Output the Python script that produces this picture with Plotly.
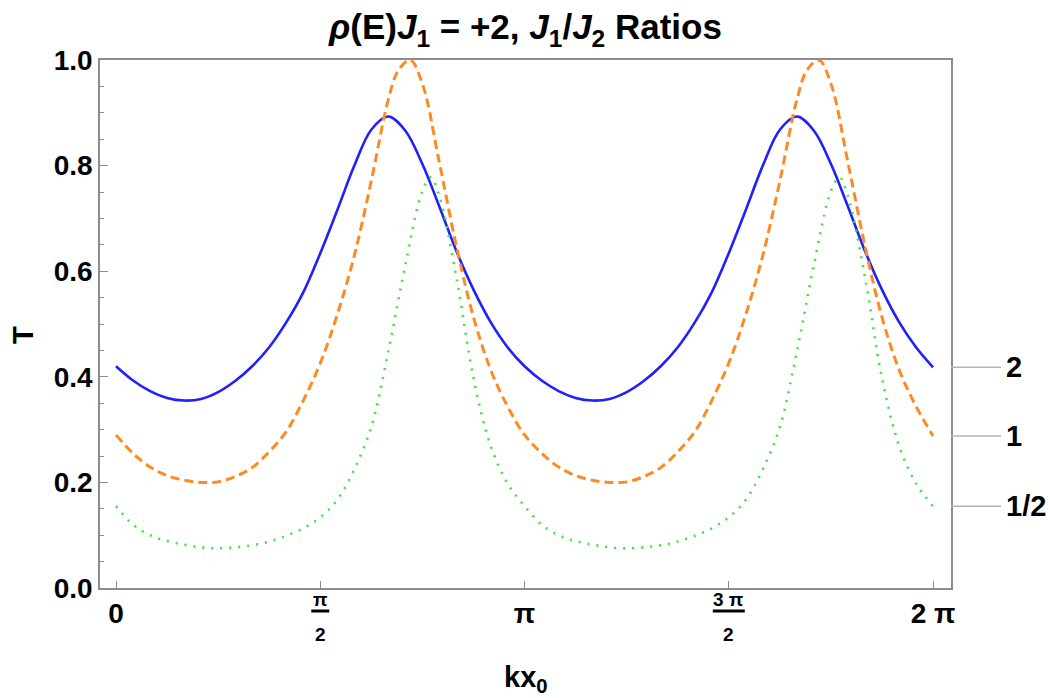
import plotly.graph_objects as go

# ---- data (kx0 in radians, T) ----
blue_x = [0.000, 0.131, 0.262, 0.393, 0.524, 0.654, 0.785, 0.916, 1.047, 1.178, 1.309, 1.440, 1.571, 1.702,
          1.833, 1.963, 2.094, 2.225, 2.356, 2.487, 2.618, 2.749, 2.880, 3.011, 3.142, 3.273, 3.404, 3.534,
          3.665, 3.796, 3.927, 4.058, 4.189, 4.320, 4.451, 4.581, 4.712, 4.843, 4.974, 5.105, 5.236, 5.367,
          5.498, 5.629, 5.760, 5.890, 6.021, 6.152, 6.283]
blue_y = [0.420, 0.393, 0.373, 0.360, 0.355, 0.358, 0.371, 0.392, 0.420, 0.456, 0.503, 0.560, 0.634, 0.716,
          0.800, 0.868, 0.893, 0.866, 0.803, 0.722, 0.638, 0.565, 0.504, 0.456, 0.420, 0.393, 0.373, 0.360,
          0.355, 0.358, 0.371, 0.392, 0.420, 0.456, 0.503, 0.560, 0.634, 0.716, 0.800, 0.868, 0.893, 0.866,
          0.803, 0.722, 0.638, 0.565, 0.504, 0.456, 0.418]

orange_x = [0.000, 0.131, 0.262, 0.393, 0.524, 0.654, 0.785, 0.916, 1.047, 1.178, 1.309, 1.440, 1.571, 1.702,
            1.833, 1.963, 2.094, 2.170, 2.262, 2.356, 2.487, 2.618, 2.749, 2.880, 3.011, 3.142, 3.273, 3.404,
            3.534, 3.665, 3.796, 3.927, 4.058, 4.189, 4.320, 4.451, 4.581, 4.712, 4.843, 4.974, 5.105, 5.236,
            5.312, 5.404, 5.498, 5.629, 5.760, 5.890, 6.021, 6.152, 6.283]
orange_y = [0.290, 0.255, 0.229, 0.213, 0.204, 0.200, 0.201, 0.211, 0.228, 0.258, 0.296, 0.355, 0.426, 0.518,
            0.630, 0.771, 0.925, 0.980, 1.000, 0.955, 0.805, 0.647, 0.513, 0.414, 0.344, 0.290, 0.255, 0.229,
            0.213, 0.204, 0.200, 0.201, 0.211, 0.228, 0.258, 0.296, 0.355, 0.426, 0.518, 0.630, 0.771, 0.925,
            0.980, 1.000, 0.955, 0.805, 0.647, 0.513, 0.414, 0.344, 0.288]

green_x = [0.000, 0.131, 0.262, 0.393, 0.524, 0.654, 0.785, 0.916, 1.047, 1.178, 1.309, 1.440, 1.571, 1.702,
           1.833, 1.963, 2.094, 2.225, 2.356, 2.420, 2.487, 2.618, 2.749, 2.880, 3.011, 3.142, 3.273, 3.404,
           3.534, 3.665, 3.796, 3.927, 4.058, 4.189, 4.320, 4.451, 4.581, 4.712, 4.843, 4.974, 5.105, 5.236,
           5.367, 5.498, 5.562, 5.629, 5.760, 5.890, 6.021, 6.152, 6.283]
green_y = [0.155, 0.120, 0.100, 0.089, 0.082, 0.077, 0.075, 0.077, 0.081, 0.088, 0.099, 0.113, 0.134, 0.167,
           0.225, 0.305, 0.448, 0.612, 0.752, 0.778, 0.742, 0.588, 0.398, 0.270, 0.198, 0.155, 0.120, 0.100,
           0.089, 0.082, 0.077, 0.075, 0.077, 0.081, 0.088, 0.099, 0.113, 0.134, 0.167, 0.225, 0.305, 0.448,
           0.612, 0.752, 0.778, 0.742, 0.588, 0.398, 0.270, 0.198, 0.155]

series_labels = ["2", "1", "1/2"]
x_tick_vals = [0.0, 1.5708, 3.14159, 4.71239, 6.28319]
x_tick_text = ["0", "", "π", "", "2 π"]
frac_numerators = ["π", "3 π"]
y_tick_vals = [0.0, 0.2, 0.4, 0.6, 0.8, 1.0]
y_tick_text = ["0.0", "0.2", "0.4", "0.6", "0.8", "1.0"]

FONT = "Liberation Sans"
FRAME = "#8c8c8c"
PW, PH = 851.0, 528.0   # plot area size in px

fig = go.Figure()
fig.add_trace(go.Scatter(x=blue_x, y=blue_y, mode="lines",
                         line=dict(color="#1f1fff", width=2.6, shape="spline", smoothing=1.0)))
fig.add_trace(go.Scatter(x=orange_x, y=orange_y, mode="lines",
                         line=dict(color="#ff8a22", width=3, dash="9px,5px", shape="spline", smoothing=1.0)))
fig.add_trace(go.Scatter(x=green_x, y=green_y, mode="lines",
                         line=dict(color="#3ae63a", width=2.6, dash="2px,7px", shape="spline", smoothing=1.0)))

# right-side labels with leader lines, placed at each curve's end value
ends = [blue_y[-1], orange_y[-1], green_y[-1]]
for lab, yv in zip(series_labels, ends):
    fig.add_shape(type="line", xref="paper", yref="y", x0=1.0, x1=1.0 + 50 / PW, y0=yv, y1=yv,
                  line=dict(color="#b4b4b4", width=1.5))
    fig.add_annotation(xref="paper", yref="y", x=1.0 + 53 / PW, y=yv, text="<b>%s</b>" % lab,
                       showarrow=False, xanchor="left", yanchor="middle",
                       font=dict(family=FONT, size=29, color="black"))

# fraction tick labels (pi/2, 3pi/2)
for xv, num, half in [(x_tick_vals[1], frac_numerators[0], 9), (x_tick_vals[3], frac_numerators[1], 16)]:
    fig.add_annotation(xref="x", yref="paper", x=xv, y=-11 / PH, text="<b>%s</b>" % num, showarrow=False,
                       xanchor="center", yanchor="middle", font=dict(family=FONT, size=19, color="black"))
    fig.add_shape(type="line", xref="x", yref="paper", x0=xv - half / 130.0, x1=xv + half / 130.0,
                  y0=-23 / PH, y1=-23 / PH, line=dict(color="black", width=3))
    fig.add_annotation(xref="x", yref="paper", x=xv, y=-46 / PH, text="<b>2</b>", showarrow=False,
                       xanchor="center", yanchor="middle", font=dict(family=FONT, size=19, color="black"))

# axis titles
fig.add_annotation(xref="paper", yref="paper", x=-77 / PW, y=253 / PH, text="<b>T</b>", textangle=-90,
                   showarrow=False, xanchor="center", yanchor="middle",
                   font=dict(family=FONT, size=29, color="black"))
fig.add_annotation(xref="paper", yref="paper", x=0.5, y=-91 / PH, text="<b>kx<sub>0</sub></b>",
                   showarrow=False, xanchor="center", yanchor="middle",
                   font=dict(family=FONT, size=29, color="black"))

fig.update_layout(
    width=1050, height=698,
    margin=dict(l=100, r=99, t=60, b=110),
    paper_bgcolor="white", plot_bgcolor="white",
    showlegend=False,
    font=dict(family=FONT, color="black"),
    title=dict(text="<b><i>ρ</i>(E)<i>J</i><sub>1</sub> = +2, <i>J</i><sub>1</sub>/<i>J</i><sub>2</sub> Ratios</b>",
               x=0.5, xref="paper", xanchor="center", y=1 - 27 / 698, yref="container", yanchor="middle",
               font=dict(family=FONT, size=35, color="black")),
    xaxis=dict(range=[-0.123, 6.421], tickmode="array", tickvals=x_tick_vals,
               ticktext=["<b>%s</b>" % t if t else "" for t in x_tick_text],
               ticks="inside", ticklen=7, tickwidth=1.3, tickcolor=FRAME,
               showline=True, linecolor=FRAME, linewidth=1.6, mirror=True, showgrid=False, zeroline=False,
               tickfont=dict(family=FONT, size=28, color="black")),
    yaxis=dict(range=[0, 1], tickmode="array", tickvals=y_tick_vals,
               ticktext=["<b>%s</b>" % t for t in y_tick_text],
               ticks="inside", ticklen=8, tickwidth=1.3, tickcolor=FRAME,
               minor=dict(ticks="inside", ticklen=4, dtick=0.05, tickcolor=FRAME, tickwidth=1.2, showgrid=False),
               showline=True, linecolor=FRAME, linewidth=1.6, mirror=True, showgrid=False, zeroline=False,
               tickfont=dict(family=FONT, size=28, color="black")),
)

fig.write_html("out.html")
